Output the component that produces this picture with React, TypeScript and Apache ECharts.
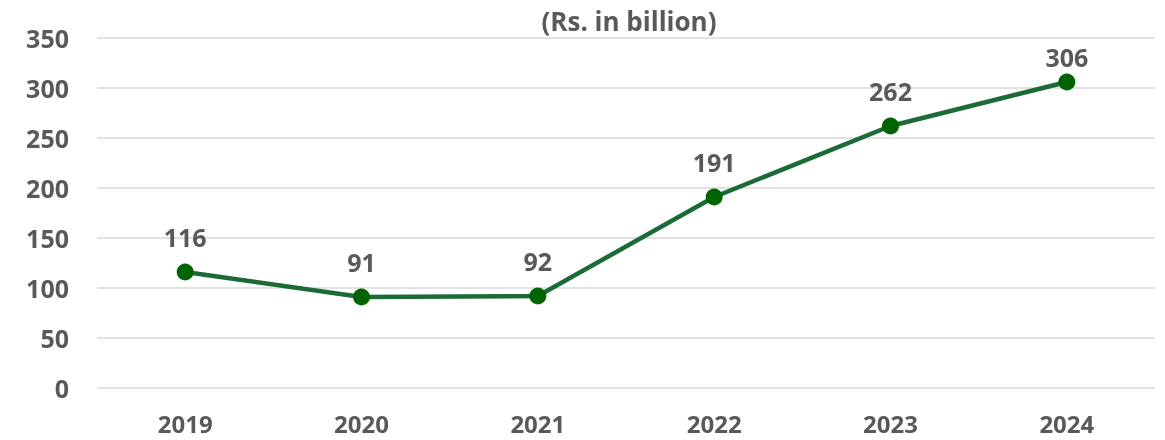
import React, { useEffect, useRef } from "react";
import * as echarts from "echarts";

const years = ["2019", "2020", "2021", "2022", "2023", "2024"];
const values = [116, 91, 92, 191, 262, 306];
const titleText = "(Rs. in billion)";

export default function App() {
  const ref = useRef<HTMLDivElement>(null);
  useEffect(() => {
    if (!ref.current) return;
    const chart = echarts.init(ref.current, undefined, { renderer: "svg" });
    const font = "'Open Sans', 'Noto Sans', sans-serif";
    const last = values.length - 1;
    chart.setOption({
      animation: false,
      title: {
        text: titleText,
        left: 624,
        textAlign: "center",
        top: 3,
        textStyle: { fontFamily: font, fontWeight: "bold", fontSize: 26, color: "#595959" },
      },
      grid: { left: 97, right: 10, top: 38, bottom: 52, outerBoundsMode: "none", containLabel: false },
      xAxis: {
        type: "category",
        data: years,
        axisLine: { show: false },
        axisTick: { show: false },
        axisLabel: {
          fontFamily: font,
          fontWeight: "bold",
          fontSize: 24,
          lineHeight: 24,
          color: "#595959",
          margin: 23,
        },
      },
      yAxis: {
        type: "value",
        min: 0,
        max: 350,
        interval: 50,
        axisLine: { show: false },
        axisTick: { show: false },
        splitLine: { lineStyle: { color: "#d9d9d9", width: 1.5 } },
        axisLabel: { fontFamily: font, fontWeight: "bold", fontSize: 25, color: "#595959", margin: 28 },
      },
      series: [
        {
          type: "line",
          data: values.map((v, i) =>
            i === last ? { value: v, label: { distance: 4 } } : v
          ),
          symbol: "circle",
          symbolSize: 17,
          lineStyle: { color: "#1a6b35", width: 4.5 },
          itemStyle: { color: "#006400" },
          label: {
            show: true,
            position: "top",
            distance: 14,
            fontFamily: font,
            fontWeight: "bold",
            fontSize: 25,
            color: "#595959",
          },
        },
      ],
    });
    return () => chart.dispose();
  }, []);
  return (
    <div
      ref={ref}
      style={{ position: "fixed", left: 0, top: 0, width: 1165, height: 440 }}
    />
  );
}
